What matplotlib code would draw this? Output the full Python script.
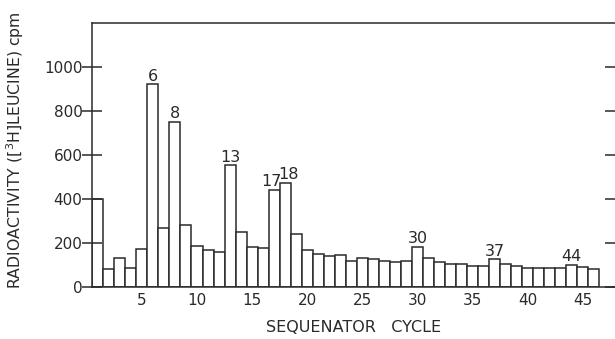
import matplotlib
matplotlib.use("Agg")
import matplotlib.pyplot as plt
import numpy as np

cycles = list(range(1, 47))
activity = [400, 80, 130, 85, 173, 920, 266, 750, 281, 187,
            168, 160, 552, 251, 180, 175, 440, 473, 240, 168,
            150, 141, 145, 119, 130, 126, 118, 112, 118, 183,
            130, 112, 104, 103, 97, 97, 126, 104, 97, 88,
            88, 88, 88, 100, 92, 80]
peak_cycles = [6, 8, 13, 17, 18, 30, 37, 44]
peak_dx = {17: -0.25, 18: 0.3}
xticks = [5, 10, 15, 20, 25, 30, 35, 40, 45]
yticks = [0, 200, 400, 600, 800, 1000]

ink = "#2a2a2a"
plt.rcParams['font.family'] = ['DejaVu Sans']

fig = plt.figure(figsize=(6.15, 3.39), dpi=100)
ax = fig.add_axes([92.3/615, 1-287/339, 1-92.3/615, (287-22.7)/339])

ax.bar(cycles, activity, width=1.0, facecolor="white", edgecolor=ink, linewidth=1.1)

for c in peak_cycles:
    v = activity[c-1]
    ax.annotate(str(c), (c + peak_dx.get(c, 0), v), xytext=(0, 0.5), textcoords="offset points",
                ha="center", va="bottom", fontsize=11.5, color=ink)

ax.set_xlim(0.5, 47.93)
ax.set_ylim(0, 1200)
ax.set_xticks(xticks)
ax.set_yticks(yticks)
ax.tick_params(axis="x", length=0, pad=4, labelsize=11, colors=ink)
ax.tick_params(axis="y", direction="inout", length=14, width=1.1, pad=0, labelsize=11, colors=ink,
               right=True, labelright=False)
for s in ["left", "top", "bottom"]:
    ax.spines[s].set_color(ink)
    ax.spines[s].set_linewidth(1.1)
ax.spines["right"].set_visible(False)

ax.set_xlabel("SEQUENATOR   CYCLE", fontsize=11.5, color=ink, labelpad=9)
fig.text(15/615, 1-150/339, "RADIOACTIVITY ([$^3$H]LEUCINE) cpm", rotation=90,
         ha="center", va="center", fontsize=11.3, color=ink)

fig.savefig("out.png", dpi=100, facecolor="white")
